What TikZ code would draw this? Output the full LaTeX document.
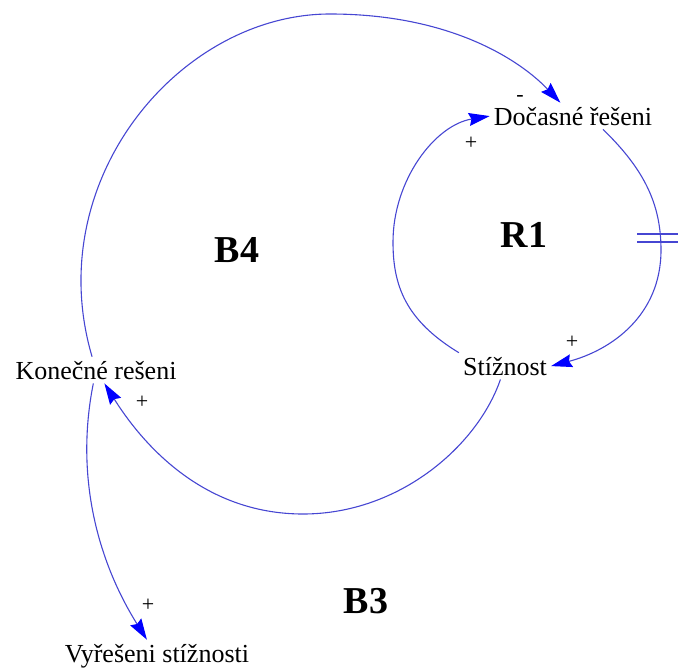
\documentclass[tikz,border=0pt]{standalone}
\usepackage{fontspec}
\setmainfont{Liberation Serif}
\usetikzlibrary{arrows.meta}
\definecolor{linkblue}{RGB}{70,70,210}

\begin{document}
\begin{tikzpicture}[
  x=1pt, y=-1pt,
  var/.style={inner sep=4pt, anchor=base, font=\fontsize{26}{30}\selectfont},
  loopname/.style={font=\fontsize{38}{42}\selectfont\bfseries},
  sign/.style={inner sep=0pt, font=\fontsize{22}{24}\selectfont},
  arr/.style={draw=linkblue, line width=1.1pt, -{Stealth[length=21pt,width=13pt,inset=2.5pt,color=blue]}},
  delaybar/.style={draw=linkblue, line width=1.1pt}
]
\useasboundingbox (0,0) rectangle (678,669);

\node[var] (doc) at (573,125) {Dočasné řešeni};
\node[var] (stz) at (505,375) {Stížnost};
\node[var] (kon) at (96,379) {Konečné rešeni};
\node[var] (vyr) at (157,662) {Vyřešeni stížnosti};

\node[loopname] (r1) at (524,235) {R1};
\node[loopname] (b4) at (237,250) {B4};
\node[loopname] (b3) at (366,601) {B3};

% long loop over the top
\draw[arr] (kon) .. controls (40,180) and (180,14) .. (330,14)
  .. controls (450,14) and (520,60) .. (doc);
% R1, left half
\draw[arr] (stz.north west) .. controls (405,320) and (393,285) .. (393,242)
  .. controls (393,180) and (435,125) .. (doc.west);
% R1, right half (with delay)
\draw[arr] (doc.-24) .. controls (645,170) and (661,205) .. (661,250)
  .. controls (661,315) and (612,350) .. (stz.east);
\coordinate (dly) at (660,238);
\draw[delaybar] (dly) ++(-23,-4) -- ++(45,0) (dly) ++(-23,4) -- ++(45,0);
% B4, under the loop
\draw[arr] (stz) .. controls (478,445) and (400,514) .. (303,514)
  .. controls (200,514) and (140,440) .. (kon);
% B3
\draw[arr] (kon) .. controls (74,480) and (100,565) .. (vyr);

\node[sign] (m1) at (520,98) {-};
\node[sign] (p1) at (471,143) {+};
\node[sign] (p2) at (572,342) {+};
\node[sign] (p3) at (142,402) {+};
\node[sign] (p4) at (148,605) {+};
\end{tikzpicture}
\end{document}
